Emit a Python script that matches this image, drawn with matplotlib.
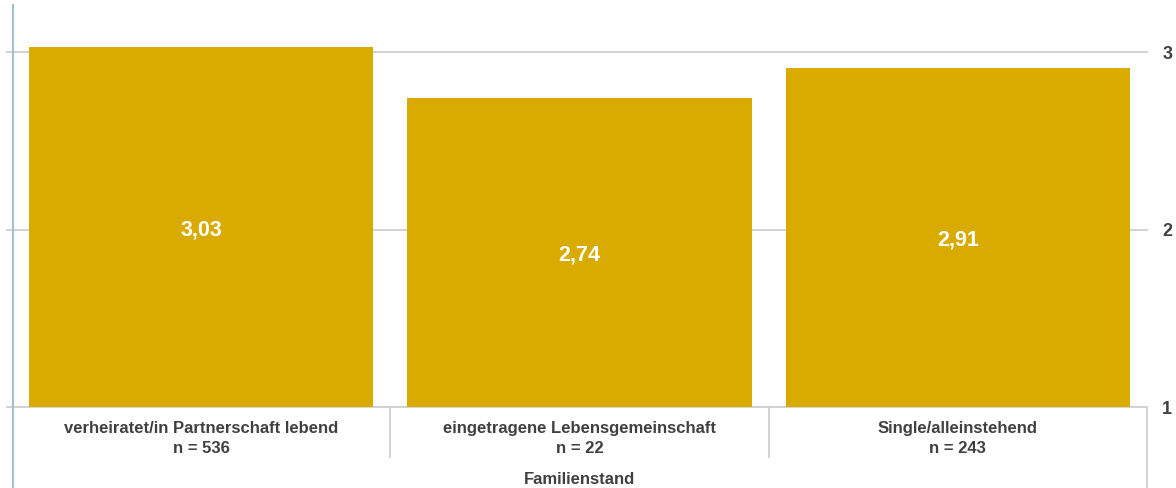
import matplotlib

matplotlib.use("Agg")
import matplotlib.pyplot as plt
from matplotlib.lines import Line2D

plt.rcParams["font.family"] = ["Liberation Sans", "DejaVu Sans"]

categories = [
    "verheiratet/in Partnerschaft lebend",
    "eingetragene Lebensgemeinschaft",
    "Single/alleinstehend",
]
counts = [536, 22, 243]
means = [3.03, 2.74, 2.91]
y_ticks = [1, 2, 3]

bar_color = "#d9ab00"
text_color = "#404040"
grid_color = "#cfcfcf"
axis_color = "#a6bfcf"

fig = plt.figure(figsize=(11.76, 4.88), dpi=100)
ax = fig.add_axes([12 / 1176, 81 / 488, 1135 / 1176, 402 / 488])

base = 1
x = range(len(categories))
ax.bar(x, [m - base for m in means], bottom=base, width=0.91,
       color=bar_color, zorder=2)

# value labels sit a little below the bar's midpoint
for i, m in enumerate(means):
    ax.text(i, (base + m) / 2 - 0.015, f"{m:.2f}".replace(".", ","),
            ha="center", va="center", color="white",
            fontsize=15.5, fontweight="bold", zorder=3)

ax.set_xlim(-0.5, len(categories) - 0.5)
ax.set_ylim(base, 3.265)
ax.set_yticks(y_ticks)
ax.set_yticklabels([str(t) for t in y_ticks])
ax.yaxis.tick_right()
ax.tick_params(axis="y", length=0, pad=11, labelsize=13, labelcolor=text_color)
for lbl in ax.get_yticklabels():
    lbl.set_fontweight("bold")
ax.set_xticks([])
for side in ["top", "right", "bottom", "left"]:
    ax.spines[side].set_visible(False)

# horizontal grid, slightly extended past the left axis
for t in y_ticks:
    ax.add_line(Line2D([-0.5 - 5 / 378, len(categories) - 0.5], [t, t],
                       color=grid_color, lw=1.3, zorder=1, clip_on=False))

# left axis line
fig.add_artist(Line2D([12.5 / 1176, 12.5 / 1176], [0, 483 / 488],
                      color=axis_color, lw=1.5))

# category separators under the axis
for b in [0.5, 1.5]:
    xf = (12 + (b + 0.5) * 1135 / 3) / 1176
    fig.add_artist(Line2D([xf, xf], [31 / 488, 81 / 488],
                          color=grid_color, lw=1.3))
fig.add_artist(Line2D([1147 / 1176, 1147 / 1176], [0, 81 / 488],
                      color=grid_color, lw=1.3))

# category labels with sample size
for i, (cat, n) in enumerate(zip(categories, counts)):
    ax.text(i, -0.036, f"{cat}\nn = {n}", transform=ax.get_xaxis_transform(),
            ha="center", va="top", fontsize=12, fontweight="bold",
            color=text_color, linespacing=1.38)

fig.text((12 + 1135 / 2) / 1176, 9 / 488, "Familienstand", ha="center",
         va="center", fontsize=12, fontweight="bold", color=text_color)

fig.savefig("out.png", dpi=100)
plt.close(fig)
